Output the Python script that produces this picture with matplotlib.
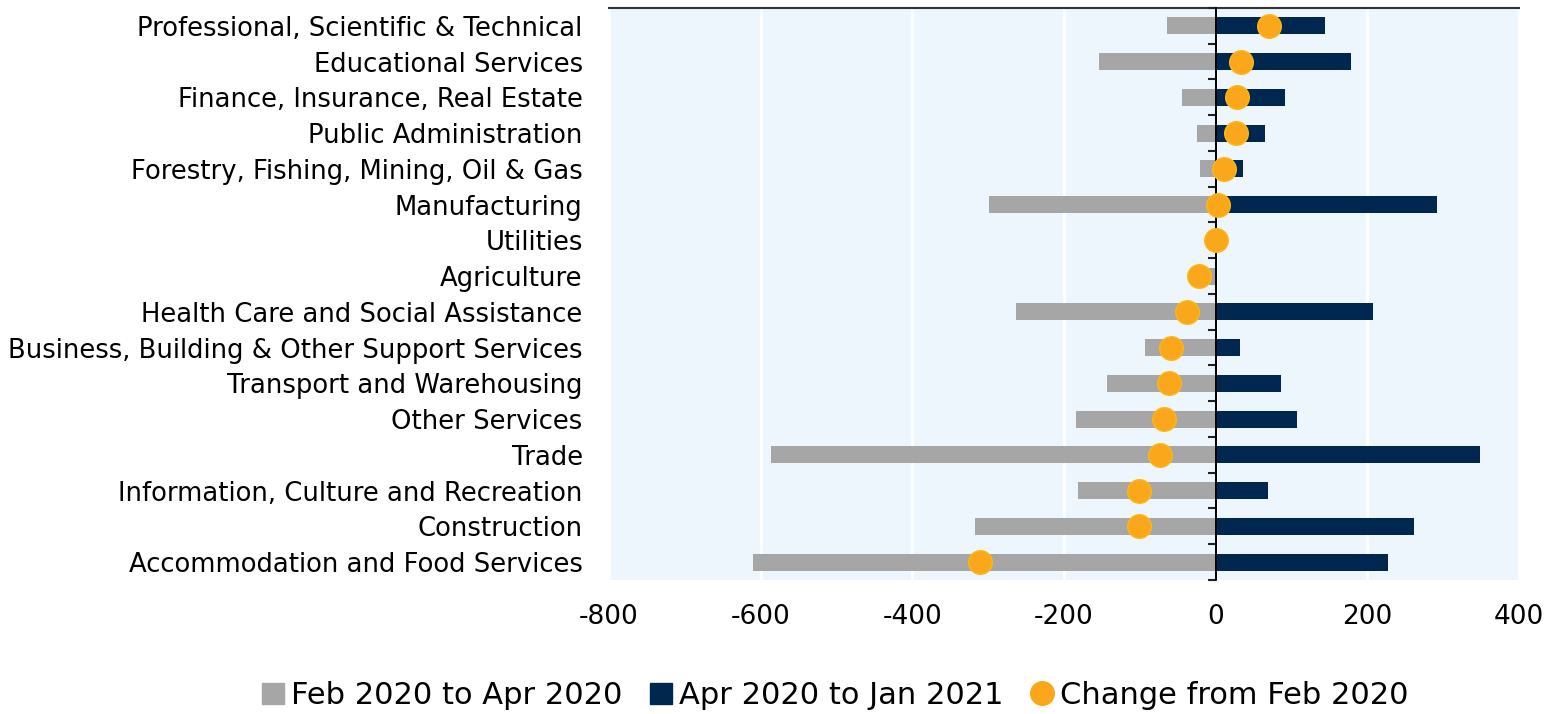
import matplotlib
matplotlib.use("Agg")
import matplotlib.pyplot as plt
import numpy as np
from matplotlib.lines import Line2D
from matplotlib.patches import Patch

categories = [
    "Professional, Scientific & Technical",
    "Educational Services",
    "Finance, Insurance, Real Estate",
    "Public Administration",
    "Forestry, Fishing, Mining, Oil & Gas",
    "Manufacturing",
    "Utilities",
    "Agriculture",
    "Health Care and Social Assistance",
    "Business, Building & Other Support Services",
    "Transport and Warehousing",
    "Other Services",
    "Trade",
    "Information, Culture and Recreation",
    "Construction",
    "Accommodation and Food Services",
]
feb_apr = [-64, -154, -44, -25, -21, -299, -3, -22, -263, -93, -143, -184, -587, -182, -318, -610]
apr_jan = [144, 179, 92, 65, 36, 292, 2, 0, 208, 32, 86, 107, 349, 69, 262, 227]
change = [70, 34, 28, 27, 11, 3, 0, -22, -38, -59, -61, -68, -73, -101, -101, -311]
xticks = [-800, -600, -400, -200, 0, 200, 400]

FONT = "DejaVu Sans"
plt.rcParams["font.family"] = [FONT]

fig = plt.figure(figsize=(15.56, 7.14), dpi=100)
ax = fig.add_axes([0.3914, 0.1877, 0.5848, 0.8011])
ax.set_facecolor("#EEF6FD")

n = len(categories)
y = np.arange(n)
gray = "#A6A6A6"
navy = "#002750"
orange = "#FBA71B"

ax.barh(y, feb_apr, height=0.48, color=gray, zorder=2)
ax.barh(y, apr_jan, height=0.48, color=navy, zorder=2)
ax.plot(change, y, "o", ms=17, color=orange, mec="#FDB813", mew=1, zorder=5, linestyle="none")

ax.set_xlim(xticks[0], xticks[-1])
ax.set_ylim(n - 0.5, -0.5)
ax.set_xticks(xticks)
ax.set_xticklabels([str(v) for v in xticks])
ax.set_yticks(y)
ax.set_yticklabels(categories)
ax.tick_params(axis="y", length=0, pad=19, labelsize=18.6)
ax.tick_params(axis="x", length=0, pad=17, labelsize=19)
ax.grid(axis="x", color="white", lw=2, zorder=1)
ax.set_axisbelow(True)
for s in ["left", "right", "bottom"]:
    ax.spines[s].set_visible(False)
ax.spines["top"].set_color("#333333")
ax.spines["top"].set_linewidth(1.5)

# zero axis line
ax.axvline(0, color="black", lw=1.3, zorder=3)
# category-boundary ticks on the zero line
loc = (0 - xticks[0]) / (xticks[-1] - xticks[0])
sec = ax.secondary_yaxis(loc)
sec.set_alignment("left")
sec.set_zorder(4)
sec.set_yticks(np.arange(n + 1) - 0.5)
sec.set_yticklabels([])
sec.tick_params(axis="y", direction="out", length=6, width=1.5, color="#222222")
sec.spines["left"].set_color("black")
sec.spines["left"].set_linewidth(1.3)

handles = [
    Patch(color=gray, label="Feb 2020 to Apr 2020"),
    Patch(color=navy, label="Apr 2020 to Jan 2021"),
    Line2D([], [], marker="o", ls="none", ms=17, color=orange, label="Change from Feb 2020"),
]
fig.legend(handles=handles, loc="lower center", bbox_to_anchor=(0.537, -0.033), ncol=3,
           frameon=False, fontsize=22, handlelength=0.7, handleheight=0.7,
           handletextpad=0.25, columnspacing=0.9)

fig.savefig("out.png", dpi=100)
